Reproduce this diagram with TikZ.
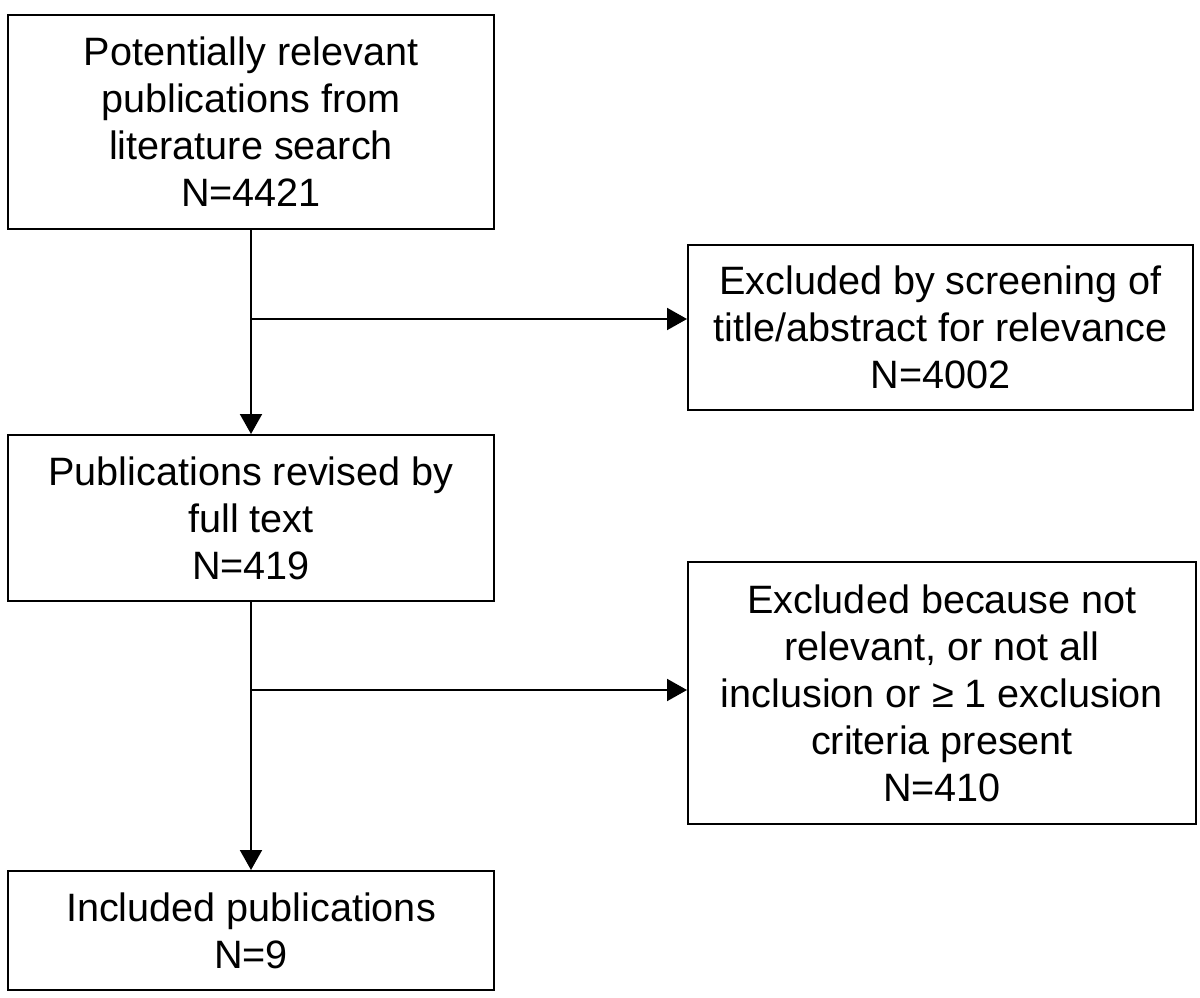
\documentclass[tikz,border=0pt]{standalone}
\usepackage{fontspec}
\setmainfont{Liberation Sans}
\usetikzlibrary{arrows.meta}
\begin{document}
\begin{tikzpicture}[x=1pt,y=-1pt,
  box/.style={draw, line width=2pt, inner sep=0pt, align=center,
    font=\fontsize{39.6pt}{47pt}\selectfont},
  conn/.style={line width=2pt, -{Triangle[length=20pt,width=22pt]}},
  plain/.style={line width=2pt}]
\useasboundingbox (0,0) rectangle (1200,998);
\node[box, minimum width=486pt, minimum height=214pt] (b1) at (251,122)
  {Potentially relevant\\publications from\\literature search\\N=4421};
\node[box, minimum width=505pt, minimum height=165pt] (b2) at (940.5,327.5)
  {Excluded by screening of\\title/abstract for relevance\\N=4002};
\node[box, minimum width=486pt, minimum height=166pt] (b3) at (251,518)
  {Publications revised by\\full text\\N=419};
\node[box, minimum width=508pt, minimum height=262pt] (b4) at (942,693)
  {Excluded because not\\relevant, or not all\\inclusion or ≥ 1 exclusion\\criteria present\\N=410};
\node[box, minimum width=486pt, minimum height=119pt] (b5) at (251,930.5)
  {Included publications\\N=9};
\coordinate (j1) at (251,319);
\coordinate (j2) at (251,690);
\draw[conn] (b1.south) -- (b3.north);
\draw[conn] (j1) -- (j1 -| b2.west);
\draw[conn] (b3.south) -- (b5.north);
\draw[conn] (j2) -- (j2 -| b4.west);
\end{tikzpicture}
\end{document}
